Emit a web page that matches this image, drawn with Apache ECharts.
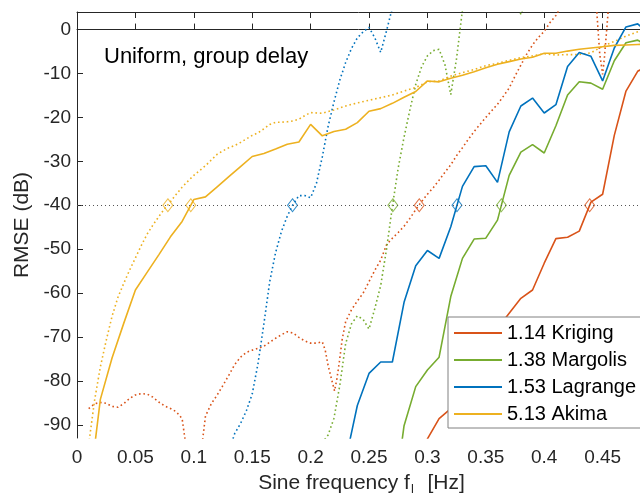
<!DOCTYPE html>
<html>
<head>
<meta charset="utf-8">
<script src="https://cdn.jsdelivr.net/npm/echarts@6/dist/echarts.min.js"></script>
<style>
  html, body { margin: 0; padding: 0; background: #fff; }
  #chart { width: 640px; height: 501px; }
</style>
</head>
<body>
<div id="chart"></div>
<script>
// RMSE versus sine frequency, uniform sampling, group-delay criterion.
const FONT = '"Liberation Sans", Arial, Helvetica, sans-serif';

const methodNames = ['1.14 Kriging', '1.38 Margolis', '1.53 Lagrange', '5.13 Akima'];
const methodColors = ['#D95319', '#77AC30', '#0072BD', '#EDB120'];

const xTickValues = [0, 0.05, 0.1, 0.15, 0.2, 0.25, 0.3, 0.35, 0.4, 0.45];
const yTickValues = [0, -10, -20, -30, -40, -50, -60, -70, -80, -90];
const thresholdDb = -40;

// Solid curves: [frequency Hz, RMSE dB]
const krigingSolid = [[0.29,-110],[0.30,-93.2],[0.31,-88.6],[0.32,-86.3],[0.33,-82],[0.34,-77],[0.35,-72],[0.36,-68],[0.37,-64.6],[0.38,-61.2],[0.39,-59.3],[0.40,-53.2],[0.41,-47.6],[0.42,-47.3],[0.43,-45.9],[0.44,-39.3],[0.45,-37.5],[0.46,-24.1],[0.47,-14.0],[0.48,-9.5],[0.49,-8]];
const margolisSolid = [[0.27,-110],[0.28,-90.2],[0.29,-81.3],[0.30,-77.5],[0.31,-74.6],[0.32,-60.8],[0.33,-52.1],[0.34,-47.7],[0.35,-47.5],[0.36,-43.4],[0.37,-33.2],[0.38,-27.9],[0.39,-26.2],[0.40,-28.1],[0.41,-21.9],[0.42,-14.9],[0.43,-11.9],[0.44,-12.2],[0.45,-13.6],[0.46,-7.1],[0.47,-3.0],[0.48,-2.4],[0.49,-4]];
const lagrangeSolid = [[0.23,-98],[0.24,-85.6],[0.25,-78.3],[0.26,-75.7],[0.27,-75.7],[0.28,-62.1],[0.29,-53.8],[0.30,-50.3],[0.31,-52.1],[0.32,-44.9],[0.33,-35.7],[0.34,-31.2],[0.35,-31.0],[0.36,-34.8],[0.37,-23.3],[0.38,-17.4],[0.39,-15.6],[0.40,-19.0],[0.41,-17.1],[0.42,-8.4],[0.43,-5.2],[0.44,-6.1],[0.45,-11.7],[0.46,-4.2],[0.47,0.6],[0.48,1.3],[0.49,-1]];
const akimaSolid = [[0.01,-106],[0.02,-84.2],[0.03,-74.8],[0.04,-66.9],[0.05,-59.3],[0.06,-55.3],[0.07,-51.3],[0.08,-47.2],[0.09,-43.7],[0.10,-38.7],[0.11,-38.1],[0.12,-35.8],[0.13,-33.5],[0.14,-31.2],[0.15,-28.9],[0.16,-28.2],[0.17,-27.2],[0.18,-26.1],[0.19,-25.6],[0.20,-21.6],[0.21,-24.2],[0.22,-23.2],[0.23,-22.7],[0.24,-21.2],[0.25,-18.6],[0.26,-18.0],[0.27,-16.8],[0.28,-15.4],[0.29,-14.1],[0.30,-11.7],[0.31,-11.9],[0.32,-11.1],[0.33,-10.4],[0.34,-9.6],[0.35,-8.7],[0.36,-7.9],[0.37,-7.3],[0.38,-6.7],[0.39,-6.3],[0.40,-5.4],[0.41,-5.4],[0.42,-4.9],[0.43,-4.5],[0.44,-4.2],[0.45,-3.9],[0.46,-3.6],[0.47,-3.5],[0.48,-3.4],[0.49,-3.3]];

// Dotted curves: [frequency Hz, RMSE dB]
const krigingDotted = [[0.010,-86.3],[0.015,-85.2],[0.020,-84.9],[0.025,-85.1],[0.030,-85.8],[0.035,-86.0],[0.040,-85.2],[0.045,-84.0],[0.050,-83.2],[0.055,-82.9],[0.060,-83.0],[0.065,-83.7],[0.070,-84.8],[0.075,-85.7],[0.080,-86.3],[0.085,-87.0],[0.090,-88.6],[0.095,-98],[0.100,-108],[0.105,-99],[0.110,-88],[0.115,-85.2],[0.120,-83.2],[0.125,-81.0],[0.130,-78.7],[0.135,-76.3],[0.140,-74.6],[0.145,-73.5],[0.150,-73.0],[0.155,-72.6],[0.160,-72.1],[0.165,-71.2],[0.170,-70.3],[0.175,-69.5],[0.180,-68.8],[0.185,-69.1],[0.190,-70.1],[0.195,-70.9],[0.200,-71.4],[0.205,-71.4],[0.210,-71.1],[0.2125,-73.0],[0.215,-76.5],[0.218,-79.7],[0.2205,-82.3],[0.2225,-79.5],[0.2245,-75.9],[0.227,-70.6],[0.230,-66.5],[0.235,-63.8],[0.240,-61.8],[0.245,-60.0],[0.250,-57.4],[0.255,-54.8],[0.260,-52.5],[0.265,-49.0],[0.270,-47.5],[0.275,-46.2],[0.280,-44.8],[0.285,-43.0],[0.290,-41.0],[0.295,-39.2],[0.300,-37.5],[0.305,-36.0],[0.310,-34.3],[0.315,-32.5],[0.320,-30.8],[0.325,-28.7],[0.330,-26.9],[0.335,-25.0],[0.340,-23.2],[0.345,-21.6],[0.350,-20.0],[0.355,-18.5],[0.360,-17.0],[0.365,-15.2],[0.370,-13.3],[0.375,-10.6],[0.380,-8.1],[0.385,-5.6],[0.390,-3.5],[0.395,-1.8],[0.400,-0.4],[0.405,1.6],[0.410,3.2],[0.415,5.5],[0.420,8],[0.430,12],[0.440,10],[0.445,4.1],[0.4475,-5.5],[0.450,-10.2],[0.4515,-6.5],[0.4535,0],[0.455,5],[0.460,12],[0.470,15],[0.490,17]];
const margolisDotted = [[0.205,-100],[0.210,-94],[0.215,-92.3],[0.220,-88.5],[0.225,-81],[0.230,-71.5],[0.235,-67],[0.240,-65.2],[0.245,-66],[0.250,-68.2],[0.255,-63.5],[0.260,-58.3],[0.265,-50],[0.270,-40.3],[0.275,-31.5],[0.280,-24.5],[0.285,-18.3],[0.290,-12.5],[0.295,-8.5],[0.300,-6],[0.305,-4.8],[0.310,-4.5],[0.315,-8],[0.320,-14.8],[0.325,-6.5],[0.330,4.5],[0.335,12],[0.350,15],[0.370,10],[0.375,7],[0.380,3.5],[0.385,7],[0.400,14],[0.450,20],[0.490,20]];
const lagrangeDotted = [[0.130,-96],[0.135,-92],[0.140,-89.7],[0.145,-86.8],[0.150,-83],[0.155,-76],[0.160,-67],[0.165,-57.4],[0.170,-50.8],[0.175,-46],[0.180,-42.5],[0.185,-39.8],[0.190,-37.8],[0.195,-37.8],[0.200,-38.3],[0.205,-35],[0.210,-29],[0.215,-22],[0.220,-16.5],[0.225,-11.5],[0.230,-7.5],[0.235,-4.3],[0.240,-1.9],[0.245,-0.5],[0.250,0.5],[0.255,-1.9],[0.260,-5.2],[0.265,-0.3],[0.270,5],[0.280,12],[0.300,20],[0.490,25]];
const akimaDotted = [[0.010,-94.5],[0.015,-84.5],[0.020,-76.8],[0.025,-70.8],[0.030,-65.3],[0.035,-61.0],[0.040,-57.8],[0.045,-54.8],[0.050,-52.0],[0.055,-49.2],[0.060,-46.6],[0.065,-44.5],[0.070,-42.6],[0.075,-40.8],[0.080,-39.2],[0.085,-37.5],[0.090,-35.9],[0.095,-34.5],[0.100,-33.2],[0.105,-32.1],[0.110,-31.0],[0.115,-29.7],[0.120,-28.4],[0.125,-27.6],[0.130,-26.9],[0.135,-26.4],[0.140,-25.7],[0.145,-24.9],[0.150,-24.1],[0.155,-23.5],[0.160,-22.6],[0.165,-21.6],[0.170,-21.1],[0.175,-21.1],[0.180,-21.0],[0.185,-20.8],[0.190,-20.4],[0.195,-19.6],[0.200,-18.9],[0.21,-19.05],[0.22,-18.3],[0.23,-17.4],[0.24,-16.7],[0.25,-16.1],[0.26,-15.5],[0.27,-14.9],[0.28,-14.0],[0.29,-13.2],[0.30,-11.9],[0.31,-11.7],[0.32,-10.6],[0.33,-9.8],[0.34,-9.1],[0.35,-8.2],[0.36,-7.7],[0.37,-7.0],[0.38,-6.4],[0.39,-6.0],[0.40,-5.5],[0.41,-5.8],[0.42,-5.7],[0.43,-5.7],[0.44,-5.3],[0.45,-3.8],[0.46,-2.7],[0.47,-1.5],[0.48,-0.5],[0.49,0.5]];

// Frequencies where each curve crosses the -40 dB threshold
const solidCrossing = [0.4389, 0.3633, 0.3253, 0.0974];
const dottedCrossing = [0.2930, 0.2704, 0.1845, 0.0778];

const solidSets = [krigingSolid, margolisSolid, lagrangeSolid, akimaSolid];
const dottedSets = [krigingDotted, margolisDotted, lagrangeDotted, akimaDotted];

const series = [];

// threshold reference line
series.push({
  type: 'line', name: 'threshold', data: [], silent: true,
  markLine: {
    silent: true, symbol: ['none', 'none'], label: { show: false },
    lineStyle: { color: '#555', width: 1, type: [1, 3] },
    data: [{ yAxis: thresholdDb }]
  }
});

dottedSets.forEach((d, i) => {
  series.push({
    type: 'line', name: 'dotted ' + i, data: d, symbol: 'none', z: 2,
    lineStyle: { color: methodColors[i], width: 1.6, type: [1.6, 2.8], cap: 'butt' },
    clip: true, silent: true
  });
});

solidSets.forEach((d, i) => {
  series.push({
    type: 'line', name: methodNames[i], data: d, symbol: 'none', z: 3,
    color: methodColors[i],
    lineStyle: { color: methodColors[i], width: 1.6 },
    clip: true, silent: true
  });
});

methodColors.forEach((c, i) => {
  series.push({
    type: 'scatter', name: 'cross ' + i, z: 4, silent: true,
    symbol: 'diamond', symbolSize: [10, 13],
    itemStyle: { color: 'transparent', borderColor: c, borderWidth: 1 },
    data: [[dottedCrossing[i], thresholdDb], [solidCrossing[i], thresholdDb]]
  });
});

const axisColor = '#262626';
const chart = echarts.init(document.getElementById('chart'), null, { renderer: 'canvas' });
chart.setOption({
  animation: false,
  backgroundColor: '#fff',
  textStyle: { fontFamily: FONT },
  title: {
    text: 'Uniform, group delay', left: 99, top: 41,
    textStyle: { fontFamily: FONT, fontSize: 22, fontWeight: 'normal', color: '#000' }
  },
  grid: { left: 77, top: 12, right: 0, bottom: 61, containLabel: false },
  legend: {
    data: methodNames, orient: 'vertical', left: 448, top: 317,
    itemWidth: 48, itemHeight: 14, itemGap: 7, padding: [6, 40, 4, 5],
    backgroundColor: '#fff', borderColor: '#808080', borderWidth: 1,
    itemStyle: { opacity: 0 },
    textStyle: { fontFamily: FONT, fontSize: 20, color: '#000' },
    selectedMode: false
  },
  xAxis: [{
    type: 'value', min: 0, max: 0.482, position: 'bottom',
    name: '{t|Sine frequency f}{s|l}{t|  [Hz]}', nameLocation: 'middle', nameGap: 33,
    nameTextStyle: {
      fontFamily: FONT, color: axisColor, padding: [0, 0, 0, 6],
      rich: { t: { fontSize: 21, fontFamily: FONT, color: axisColor },
              s: { fontSize: 13, fontFamily: FONT, color: axisColor, padding: [12, 2, 0, 1] } }
    },
    axisLine: { show: true, lineStyle: { color: axisColor, width: 1 } },
    axisTick: { show: true, inside: true, length: 6, customValues: xTickValues, lineStyle: { color: axisColor } },
    axisLabel: {
      fontFamily: FONT, fontSize: 19, color: axisColor, margin: 10, customValues: xTickValues,
      formatter: v => String(+(+v).toFixed(2))
    },
    splitLine: { show: false }
  }, {
    type: 'value', min: 0, max: 0.482, position: 'top',
    axisLine: { show: true, lineStyle: { color: axisColor, width: 1 } },
    axisTick: { show: true, inside: true, length: 6, customValues: xTickValues, lineStyle: { color: axisColor } },
    axisLabel: { show: false }, splitLine: { show: false }
  }],
  yAxis: {
    type: 'value', min: -93, max: 4,
    name: 'RMSE (dB)', nameLocation: 'middle', nameGap: 38,
    nameTextStyle: { fontFamily: FONT, fontSize: 21, color: axisColor },
    axisLine: { show: true, lineStyle: { color: axisColor, width: 1 } },
    axisTick: { show: true, inside: true, length: 6, customValues: yTickValues, lineStyle: { color: axisColor } },
    axisLabel: { fontFamily: FONT, fontSize: 19, color: axisColor, margin: 6, customValues: yTickValues },
    splitLine: { show: false }
  },
  series: series
});
</script>
</body>
</html>
